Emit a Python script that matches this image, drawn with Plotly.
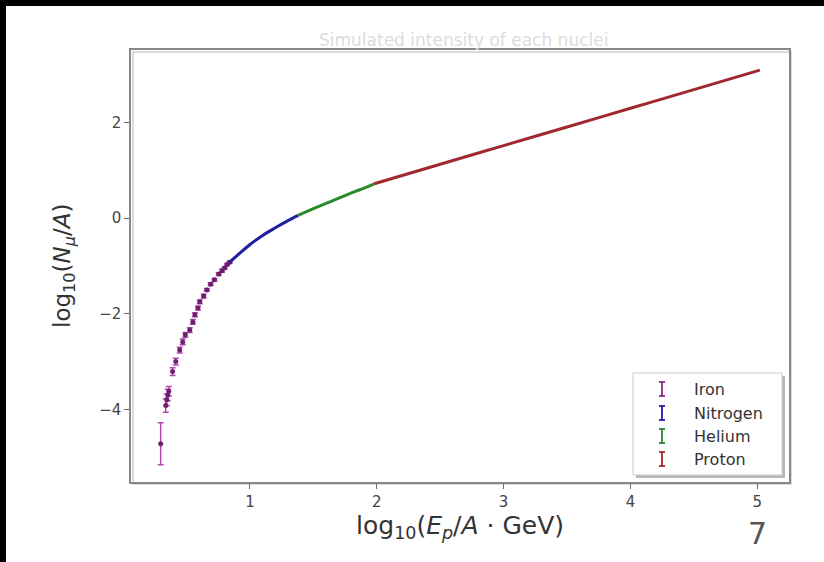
import plotly.graph_objects as go

# ---- data ----
series_names = ["Iron", "Nitrogen", "Helium", "Proton"]
series_colors = ["#8a2a8a", "#1f1fa0", "#2a8a2a", "#a0282f"]

iron_x = [0.296, 0.336, 0.344, 0.352, 0.360, 0.390, 0.415, 0.446, 0.470, 0.490,
          0.525, 0.550, 0.566, 0.590, 0.604, 0.635, 0.660, 0.690, 0.720, 0.754,
          0.780, 0.800, 0.820, 0.840]
iron_y = [-4.72, -3.92, -3.80, -3.70, -3.62, -3.21, -3.00, -2.76, -2.59, -2.44,
          -2.34, -2.17, -2.02, -1.88, -1.75, -1.63, -1.50, -1.38, -1.29, -1.17,
          -1.10, -1.04, -0.97, -0.92]
iron_err = [0.44, 0.14, 0.12, 0.12, 0.10, 0.08, 0.07, 0.06, 0.06, 0.05,
            0.05, 0.05, 0.04, 0.04, 0.04, 0.04, 0.03, 0.03, 0.03, 0.03,
            0.03, 0.02, 0.02, 0.02]

nitrogen_x = [0.84, 0.90, 1.00, 1.10, 1.20, 1.30, 1.38]
nitrogen_y = [-0.92, -0.78, -0.55, -0.36, -0.20, -0.05, 0.06]

helium_x = [1.38, 1.50, 1.60, 1.70, 1.80, 1.90, 1.98]
helium_y = [0.06, 0.20, 0.31, 0.42, 0.53, 0.63, 0.72]

proton_x = [1.98, 2.50, 3.00, 3.50, 4.00, 4.50, 5.02]
proton_y = [0.72, 1.13, 1.52, 1.91, 2.30, 2.69, 3.10]

x_ticks = [1, 2, 3, 4, 5]
y_ticks = [-4, -2, 0, 2]
y_tick_labels = ["\u22124", "\u22122", "0", "2"]

title_text = "Simulated intensity of each nuclei"
x_title = "log<sub>10</sub>(<i>E<sub>p</sub></i>/<i>A</i> \u00b7 GeV)"
y_title = "log<sub>10</sub>(<i>N<sub>\u03bc</sub></i>/<i>A</i>)"
page_number = "7"

# ---- geometry ----
W, H = 824, 562
L, R, T, B = 131, 789, 50, 482


def px(x):
    return (x - L) / (R - L)


def py(y):
    return (B - y) / (B - T)


FONT = "DejaVu Sans, Verdana, sans-serif"

fig = go.Figure()

fig.add_trace(go.Scatter(
    x=iron_x, y=iron_y, mode="markers",
    marker=dict(size=5, color="#6e1f6e"),
    error_y=dict(type="data", array=iron_err, visible=True,
                 color="#b04ab0", thickness=1.5, width=3),
    showlegend=False, hoverinfo="skip"))

for xs, ys, col in [(nitrogen_x, nitrogen_y, series_colors[1]),
                    (helium_x, helium_y, series_colors[2]),
                    (proton_x, proton_y, series_colors[3])]:
    fig.add_trace(go.Scatter(x=xs, y=ys, mode="lines",
                             line=dict(color=col, width=3, shape="spline"),
                             showlegend=False, hoverinfo="skip"))

shapes = []
annotations = []

# black borders of the photographed slide
shapes.append(dict(type="rect", xref="paper", yref="paper", x0=px(0), x1=px(6),
                   y0=py(H), y1=py(0), fillcolor="black", line_width=0, layer="above"))
shapes.append(dict(type="rect", xref="paper", yref="paper", x0=px(0), x1=px(W),
                   y0=py(6), y1=py(0), fillcolor="black", line_width=0, layer="above"))

# frame shadow
shapes.append(dict(type="rect", xref="paper", yref="paper", x0=px(L + 2), x1=px(R + 2),
                   y0=py(B + 2), y1=py(T + 2), line=dict(color="#d0d0d0", width=1.5),
                   layer="below"))

# legend
lx0, lx1, ly0, ly1 = 633, 782, 373, 475
shapes.append(dict(type="rect", xref="paper", yref="paper", x0=px(lx0 + 3), x1=px(lx1 + 3),
                   y0=py(ly1 + 3), y1=py(ly0 + 3), fillcolor="#b8b8b8", line_width=0,
                   layer="above"))
shapes.append(dict(type="rect", xref="paper", yref="paper", x0=px(lx0), x1=px(lx1),
                   y0=py(ly1), y1=py(ly0), fillcolor="white",
                   line=dict(color="#cccccc", width=1), layer="above"))
entry_y = [389, 413, 436, 459]
sym_x = 662
for name, col, ey in zip(series_names, series_colors, entry_y):
    shapes.append(dict(type="line", xref="paper", yref="paper", x0=px(sym_x), x1=px(sym_x),
                       y0=py(ey + 7), y1=py(ey - 7), line=dict(color=col, width=1.8),
                       layer="above"))
    for cy in (ey - 7, ey + 7):
        shapes.append(dict(type="line", xref="paper", yref="paper", x0=px(sym_x - 3),
                           x1=px(sym_x + 3), y0=py(cy), y1=py(cy),
                           line=dict(color=col, width=1.8), layer="above"))
    annotations.append(dict(text=name, xref="paper", yref="paper", x=px(692), y=py(ey),
                            xanchor="left", yanchor="middle", showarrow=False,
                            font=dict(family=FONT, size=16, color="#333333")))

annotations.append(dict(text=title_text, xref="paper", yref="paper", x=px(463), y=py(40),
                        xanchor="center", yanchor="middle", showarrow=False,
                        font=dict(family=FONT, size=17, color="#dcdcdc")))
annotations.append(dict(text=x_title, xref="paper", yref="paper", x=px(460), y=py(527),
                        xanchor="center", yanchor="middle", showarrow=False,
                        font=dict(family=FONT, size=25, color="#333333")))
annotations.append(dict(text=y_title, xref="paper", yref="paper", x=px(64), y=py(266),
                        xanchor="center", yanchor="middle", showarrow=False, textangle=-90,
                        font=dict(family=FONT, size=23, color="#333333")))
annotations.append(dict(text=page_number, xref="paper", yref="paper", x=px(757), y=py(533),
                        xanchor="center", yanchor="middle", showarrow=False,
                        font=dict(family=FONT, size=30, color="#555555")))

fig.update_layout(
    width=W, height=H,
    margin=dict(l=L, r=W - R, t=T, b=H - B),
    paper_bgcolor="white", plot_bgcolor="white",
    showlegend=False,
    shapes=shapes, annotations=annotations,
    xaxis=dict(range=[0.062, 5.25], tickvals=x_ticks, ticks="outside", ticklen=5,
               tickcolor="#666666", tickfont=dict(family=FONT, size=15, color="#444444"),
               showgrid=False, zeroline=False, showline=True, mirror=True,
               linecolor="#888888", linewidth=1.5),
    yaxis=dict(range=[-5.52, 3.52], tickvals=y_ticks, ticktext=y_tick_labels,
               ticks="outside", ticklen=5, tickcolor="#666666",
               tickfont=dict(family=FONT, size=15, color="#444444"),
               showgrid=False, zeroline=False, showline=True, mirror=True,
               linecolor="#888888", linewidth=1.5),
)

fig.write_html("out.html", config={"displayModeBar": False},
               post_script="document.body.style.margin='0';document.body.style.overflow='hidden';")
